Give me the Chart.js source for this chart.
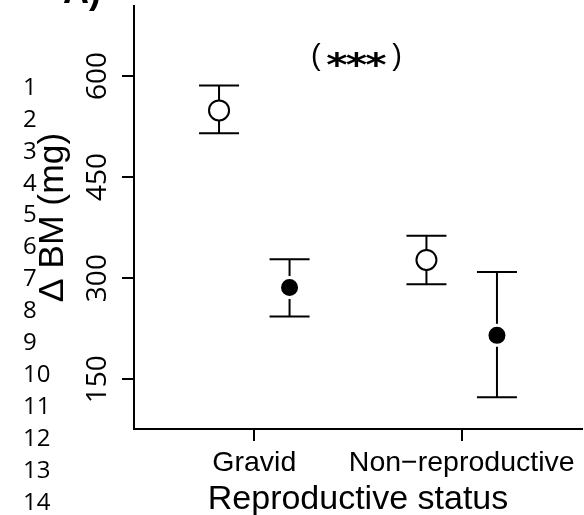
<!DOCTYPE html>
<html><head><meta charset="utf-8">
<script src="https://cdn.jsdelivr.net/npm/chart.js@4/dist/chart.umd.min.js"></script>
<style>html,body{margin:0;padding:0;background:#fff}#c{display:block}</style>
</head><body>
<canvas id="c" width="584" height="515"></canvas>
<script>
// ---- data ----
const categories = ['Gravid', 'Non\u2212reproductive'];
const categoryPositions = [1, 2];
const openMeans  = [549, 327];
const openLower  = [515, 291];
const openUpper  = [586, 363];
const filledMeans = [286, 215];
const filledLower = [243, 123];
const filledUpper = [328, 309];
const groupOffset = 0.17;
const yTicks = [150, 300, 450, 600];
const yTitle = '\u0394 BM (mg)';
const xTitle = 'Reproductive status';
const significance = ['(', '*', '*', '*', ')'];
const panelLabel = 'A)';
const lineNumbers = ['1','2','3','4','5','6','7','8','9','10','11','12','13','14'];

const openData = categoryPositions.map((p, i) => ({x: p - groupOffset, y: openMeans[i], lo: openLower[i], hi: openUpper[i]}));
const filledData = categoryPositions.map((p, i) => ({x: p + groupOffset, y: filledMeans[i], lo: filledLower[i], hi: filledUpper[i]}));

const errorBars = {
  id: 'errorBars',
  beforeDatasetsDraw(chart) {
    const {ctx, scales: {x, y}} = chart;
    ctx.save();
    ctx.strokeStyle = '#000';
    ctx.lineWidth = 2;
    chart.data.datasets.forEach(ds => {
      ds.data.forEach(d => {
        const px = x.getPixelForValue(d.x);
        const ylo = y.getPixelForValue(d.lo);
        const yhi = y.getPixelForValue(d.hi);
        const cap = 20;
        ctx.beginPath();
        ctx.moveTo(px, ylo); ctx.lineTo(px, yhi);
        ctx.moveTo(px - cap, ylo); ctx.lineTo(px + cap, ylo);
        ctx.moveTo(px - cap, yhi); ctx.lineTo(px + cap, yhi);
        ctx.stroke();
      });
    });
    ctx.restore();
  }
};

const extraText = {
  id: 'extraText',
  afterDraw(chart) {
    const {ctx} = chart;
    ctx.save();
    ctx.fillStyle = '#000';
    // line numbers
    ctx.font = '24px "Open Sans"';
    ctx.textAlign = 'left';
    ctx.textBaseline = 'middle';
    lineNumbers.forEach((t, i) => ctx.fillText(t, 23, 88 + i * 31.9));
    // panel label (cut off at top)
    ctx.font = 'bold 36px "Liberation Sans"';
    ctx.textAlign = 'right';
    ctx.textBaseline = 'alphabetic';
    ctx.fillText(panelLabel, 101, 3);
    // significance
    ctx.font = '29px "Liberation Sans"';
    ctx.textBaseline = 'middle';
    ctx.textAlign = 'left';
    ctx.fillText(significance[0], 311, 57);
    ctx.textAlign = 'right';
    ctx.fillText(significance[4], 402, 57);
    ctx.font = 'bold 34px "DejaVu Sans"';
    ctx.textAlign = 'center';
    ctx.textBaseline = 'alphabetic';
    [337, 356.5, 376].forEach((cx, k) => {
      ctx.save();
      ctx.translate(cx, 75);
      ctx.scale(1.2, 0.95);
      ctx.fillText(significance[k + 1], 0, 0);
      ctx.restore();
    });
    ctx.restore();
  }
};

new Chart(document.getElementById('c'), {
  type: 'scatter',
  data: {
    datasets: [
      {data: openData, pointRadius: 10, pointHoverRadius: 10, pointBackgroundColor: '#fff', pointBorderColor: '#000', pointBorderWidth: 2},
      {data: filledData, pointRadius: 10, pointHoverRadius: 10, pointBackgroundColor: '#000', pointBorderColor: '#fff', pointBorderWidth: 3}
    ]
  },
  options: {
    responsive: false,
    animation: false,
    devicePixelRatio: 1,
    layout: {autoPadding: false, padding: {left: 0, top: 6, right: 2, bottom: 0}},
    plugins: {legend: {display: false}, tooltip: {enabled: false}},
    scales: {
      x: {
        type: 'linear', min: 0.42, max: 2.58,
        afterBuildTicks: s => { s.ticks = categoryPositions.map(v => ({value: v})); },
        afterFit: s => { s.height = 86; s.paddingLeft = 0; s.paddingRight = 0; },
        grid: {drawOnChartArea: false, drawTicks: true, tickLength: 12, color: '#000', lineWidth: 2},
        border: {display: true, color: '#000', width: 2},
        ticks: {color: '#000', padding: 8, maxRotation: 0, autoSkip: false,
          font: {family: '"Liberation Sans"', size: 28.5, lineHeight: 1},
          callback: (v, i) => categories[i]},
        title: {display: true, text: xTitle, color: '#000', padding: {top: 0, bottom: -2},
          font: {family: '"Liberation Sans"', size: 34, lineHeight: 1}}
      },
      y: {
        type: 'linear', min: 76, max: 704,
        afterBuildTicks: s => { s.ticks = yTicks.map(v => ({value: v})); },
        afterFit: s => { s.width = 134; s.paddingTop = 0; s.paddingBottom = 0; },
        grid: {drawOnChartArea: false, drawTicks: true, tickLength: 12, color: '#000', lineWidth: 2},
        border: {display: true, color: '#000', width: 2},
        ticks: {color: '#000', padding: 0, minRotation: 90, maxRotation: 90, crossAlign: 'center',
          font: {family: '"Open Sans"', size: 28, lineHeight: 1}},
        title: {display: true, text: yTitle, color: '#000', padding: {top: 35, bottom: 0},
          font: {family: '"Liberation Sans"', size: 35.5, lineHeight: 1}}
      }
    }
  },
  plugins: [errorBars, extraText]
});
</script>
</body></html>
